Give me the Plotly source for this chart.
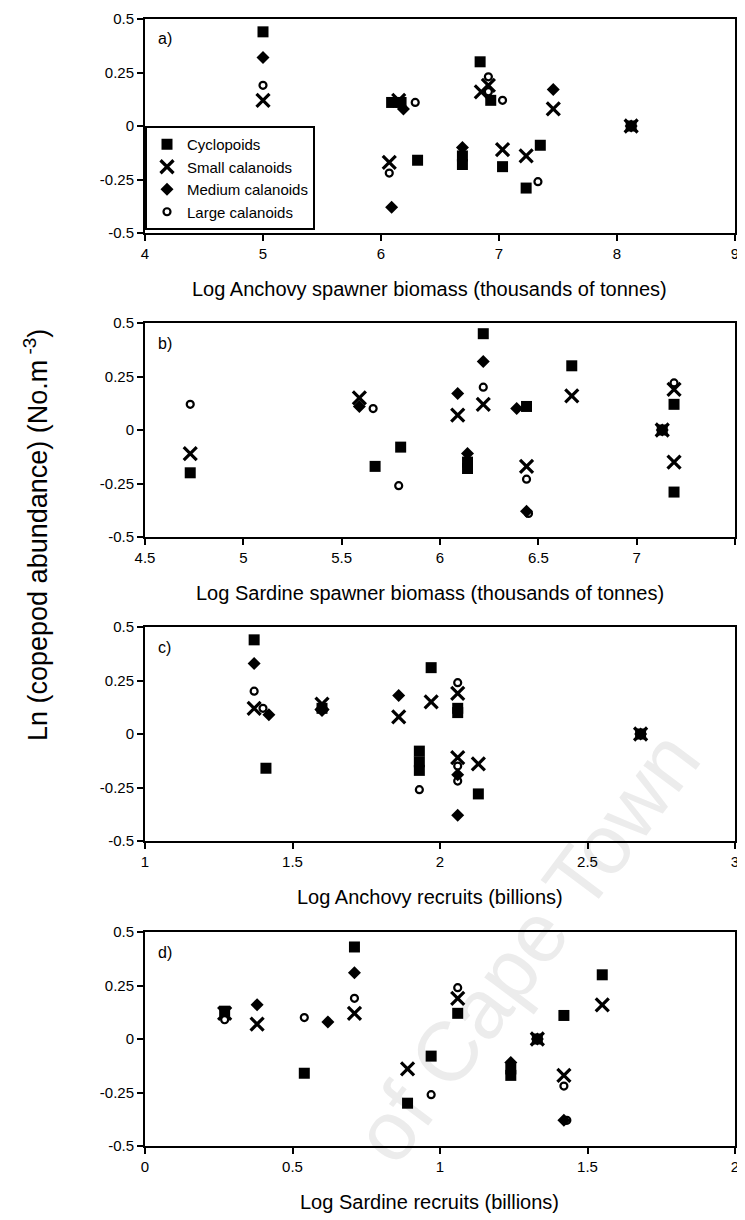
import plotly.graph_objects as go

# ---------------- data ----------------
groups = ["Cyclopoids", "Small calanoids", "Medium calanoids", "Large calanoids"]

# Panel a: Log Anchovy spawner biomass
a_cyc_x = [5.0, 6.09, 6.17, 6.31, 6.69, 6.69, 6.84, 6.93, 7.03, 7.23, 7.35, 8.12]
a_cyc_y = [0.44, 0.11, 0.11, -0.16, -0.14, -0.18, 0.30, 0.12, -0.19, -0.29, -0.09, 0.0]
a_sml_x = [5.0, 6.07, 6.15, 6.85, 6.91, 7.03, 7.23, 7.46, 8.12]
a_sml_y = [0.12, -0.17, 0.12, 0.16, 0.19, -0.11, -0.14, 0.08, 0.0]
a_med_x = [5.0, 6.09, 6.19, 6.69, 7.46, 8.12]
a_med_y = [0.32, -0.38, 0.08, -0.10, 0.17, 0.0]
a_lrg_x = [5.0, 6.07, 6.29, 6.91, 6.91, 7.03, 7.33, 8.12]
a_lrg_y = [0.19, -0.22, 0.11, 0.23, 0.16, 0.12, -0.26, 0.0]

# Panel b: Log Sardine spawner biomass
b_cyc_x = [4.73, 5.67, 5.80, 6.14, 6.14, 6.22, 6.44, 6.67, 7.13, 7.19, 7.19]
b_cyc_y = [-0.20, -0.17, -0.08, -0.15, -0.18, 0.45, 0.11, 0.30, 0.0, 0.12, -0.29]
b_sml_x = [4.73, 5.59, 6.09, 6.22, 6.44, 6.67, 7.13, 7.19, 7.19]
b_sml_y = [-0.11, 0.15, 0.07, 0.12, -0.17, 0.16, 0.0, 0.19, -0.15]
b_med_x = [5.59, 6.09, 6.14, 6.22, 6.39, 6.44, 7.13]
b_med_y = [0.11, 0.17, -0.11, 0.32, 0.10, -0.38, 0.0]
b_lrg_x = [4.73, 5.66, 5.79, 6.22, 6.44, 6.45, 7.13, 7.19]
b_lrg_y = [0.12, 0.10, -0.26, 0.20, -0.23, -0.39, 0.0, 0.22]

# Panel c: Log Anchovy recruits
c_cyc_x = [1.37, 1.41, 1.60, 1.93, 1.93, 1.93, 1.97, 2.06, 2.06, 2.13, 2.68]
c_cyc_y = [0.44, -0.16, 0.12, -0.08, -0.13, -0.17, 0.31, 0.10, 0.12, -0.28, 0.0]
c_sml_x = [1.37, 1.60, 1.86, 1.97, 2.06, 2.06, 2.13, 2.68]
c_sml_y = [0.12, 0.14, 0.08, 0.15, 0.19, -0.11, -0.14, 0.0]
c_med_x = [1.37, 1.42, 1.60, 1.86, 2.06, 2.06, 2.68]
c_med_y = [0.33, 0.09, 0.11, 0.18, -0.19, -0.38, 0.0]
c_lrg_x = [1.37, 1.40, 1.93, 2.06, 2.06, 2.06, 2.68]
c_lrg_y = [0.20, 0.12, -0.26, 0.24, -0.15, -0.22, 0.0]

# Panel d: Log Sardine recruits
d_cyc_x = [0.27, 0.54, 0.71, 0.89, 0.97, 1.06, 1.24, 1.24, 1.33, 1.42, 1.55]
d_cyc_y = [0.13, -0.16, 0.43, -0.30, -0.08, 0.12, -0.14, -0.17, 0.0, 0.11, 0.30]
d_sml_x = [0.27, 0.38, 0.71, 0.89, 1.06, 1.33, 1.42, 1.55]
d_sml_y = [0.12, 0.07, 0.12, -0.14, 0.19, 0.0, -0.17, 0.16]
d_med_x = [0.38, 0.62, 0.71, 1.24, 1.33, 1.42]
d_med_y = [0.16, 0.08, 0.31, -0.11, 0.0, -0.38]
d_lrg_x = [0.27, 0.54, 0.71, 0.97, 1.06, 1.42, 1.43]
d_lrg_y = [0.09, 0.10, 0.19, -0.26, 0.24, -0.22, -0.38]

panel_letters = ["a)", "b)", "c)", "d)"]
x_titles = [
    "Log Anchovy spawner biomass (thousands of tonnes)",
    "Log Sardine spawner biomass (thousands of tonnes)",
    "Log Anchovy recruits (billions)",
    "Log Sardine recruits (billions)",
]
x_ranges = [[4, 9], [4.5, 7.5], [1, 3], [0, 2]]
x_dticks = [1, 0.5, 0.5, 0.5]
y_tickvals = [-0.5, -0.25, 0, 0.25, 0.5]
y_ticktext = ["-0.5", "-0.25", "0", "0.25", "0.5"]
y_title = "Ln (copepod abundance) (No.m<sup> -3</sup>)"

# ---------------- layout geometry ----------------
# the page body adds an 8 px offset; target pixel positions are screen coords
OFF = 8
W, H = 745 - OFF, 1220 - OFF
px_x = lambda p: (p - OFF) / W
px_y = lambda p: 1 - (p - OFF) / H
x_dom = [px_x(145), px_x(735)]
panel_tops = [19, 323, 627, 932]
panel_h = 214

FONT = "Liberation Sans, Arial, sans-serif"
marker_styles = [
    dict(symbol="square", size=11, color="black", line=dict(width=0)),
    dict(symbol="x-thin", size=13, color="black", line=dict(width=3.2, color="black")),
    dict(symbol="diamond", size=10, color="black", line=dict(width=0)),
    dict(symbol="circle-open", size=7, color="black", line=dict(width=2.2, color="black")),
]

panels = [
    [(a_cyc_x, a_cyc_y), (a_sml_x, a_sml_y), (a_med_x, a_med_y), (a_lrg_x, a_lrg_y)],
    [(b_cyc_x, b_cyc_y), (b_sml_x, b_sml_y), (b_med_x, b_med_y), (b_lrg_x, b_lrg_y)],
    [(c_cyc_x, c_cyc_y), (c_sml_x, c_sml_y), (c_med_x, c_med_y), (c_lrg_x, c_lrg_y)],
    [(d_cyc_x, d_cyc_y), (d_sml_x, d_sml_y), (d_med_x, d_med_y), (d_lrg_x, d_lrg_y)],
]

fig = go.Figure()
annotations = []
layout_axes = {}
for i, series in enumerate(panels):
    n = "" if i == 0 else str(i + 1)
    xa, ya = "x" + n, "y" + n
    for g, (xs, ys) in enumerate(series):
        fig.add_trace(go.Scatter(
            x=xs, y=ys, mode="markers", name=groups[g],
            marker=marker_styles[g], xaxis=xa, yaxis=ya,
            showlegend=(i == 0), legendgroup=groups[g],
            cliponaxis=False,
        ))
    top = panel_tops[i]
    bot = top + panel_h
    layout_axes["xaxis" + n] = dict(
        domain=x_dom, range=x_ranges[i], dtick=x_dticks[i], tick0=x_ranges[i][0],
        anchor=ya, showgrid=False, zeroline=False, automargin=False,
        showline=True, mirror=True, linecolor="black", linewidth=2,
        ticks="outside", ticklen=6, tickwidth=2, tickcolor="black",
        tickfont=dict(family=FONT, size=15, color="black"),
    )
    layout_axes["yaxis" + n] = dict(
        domain=[px_y(bot), px_y(top)], range=[-0.5, 0.5],
        tickvals=y_tickvals, ticktext=y_ticktext,
        anchor=xa, showgrid=False, zeroline=False, automargin=False,
        showline=True, mirror=True, linecolor="black", linewidth=2,
        ticks="outside", ticklen=6, tickwidth=2, tickcolor="black",
        tickfont=dict(family=FONT, size=15, color="black"),
    )
    annotations.append(dict(
        text=panel_letters[i], xref="paper", yref="paper",
        x=px_x(156), y=px_y(top + 20), xanchor="left", yanchor="middle",
        showarrow=False, font=dict(family=FONT, size=16, color="black"),
    ))
    annotations.append(dict(
        text=x_titles[i], xref="paper", yref="paper",
        x=px_x(430), y=px_y(bot + 56), xanchor="center", yanchor="middle",
        showarrow=False, font=dict(family=FONT, size=20, color="black"),
    ))

annotations.append(dict(
    text=y_title, xref="paper", yref="paper",
    x=px_x(36), y=px_y(535), xanchor="center", yanchor="middle",
    textangle=-90, showarrow=False,
    font=dict(family=FONT, size=27, color="black"),
))

fig.update_layout(
    width=W, height=H,
    margin=dict(l=0, r=0, t=0, b=0, autoexpand=False),
    paper_bgcolor="white", plot_bgcolor="rgba(0,0,0,0)",
    annotations=annotations,
    legend=dict(
        x=px_x(145), y=px_y(126), xanchor="left", yanchor="top",
        bgcolor="white", bordercolor="black", borderwidth=2,
        font=dict(family=FONT, size=15, color="black"),
        tracegroupgap=0, itemwidth=30,
    ),
    shapes=[dict(
        type="line", xref="paper", yref="paper", layer="below",
        x0=px_x(345), y0=px_y(1258), x1=px_x(775), y1=px_y(686),
        line=dict(color="rgba(0,0,0,0)", width=1),
        label=dict(text="of Cape Town", textposition="middle",
                   font=dict(family=FONT, size=84, color="#ececec")),
    )],
    **layout_axes,
)

fig.write_html("out.html")
